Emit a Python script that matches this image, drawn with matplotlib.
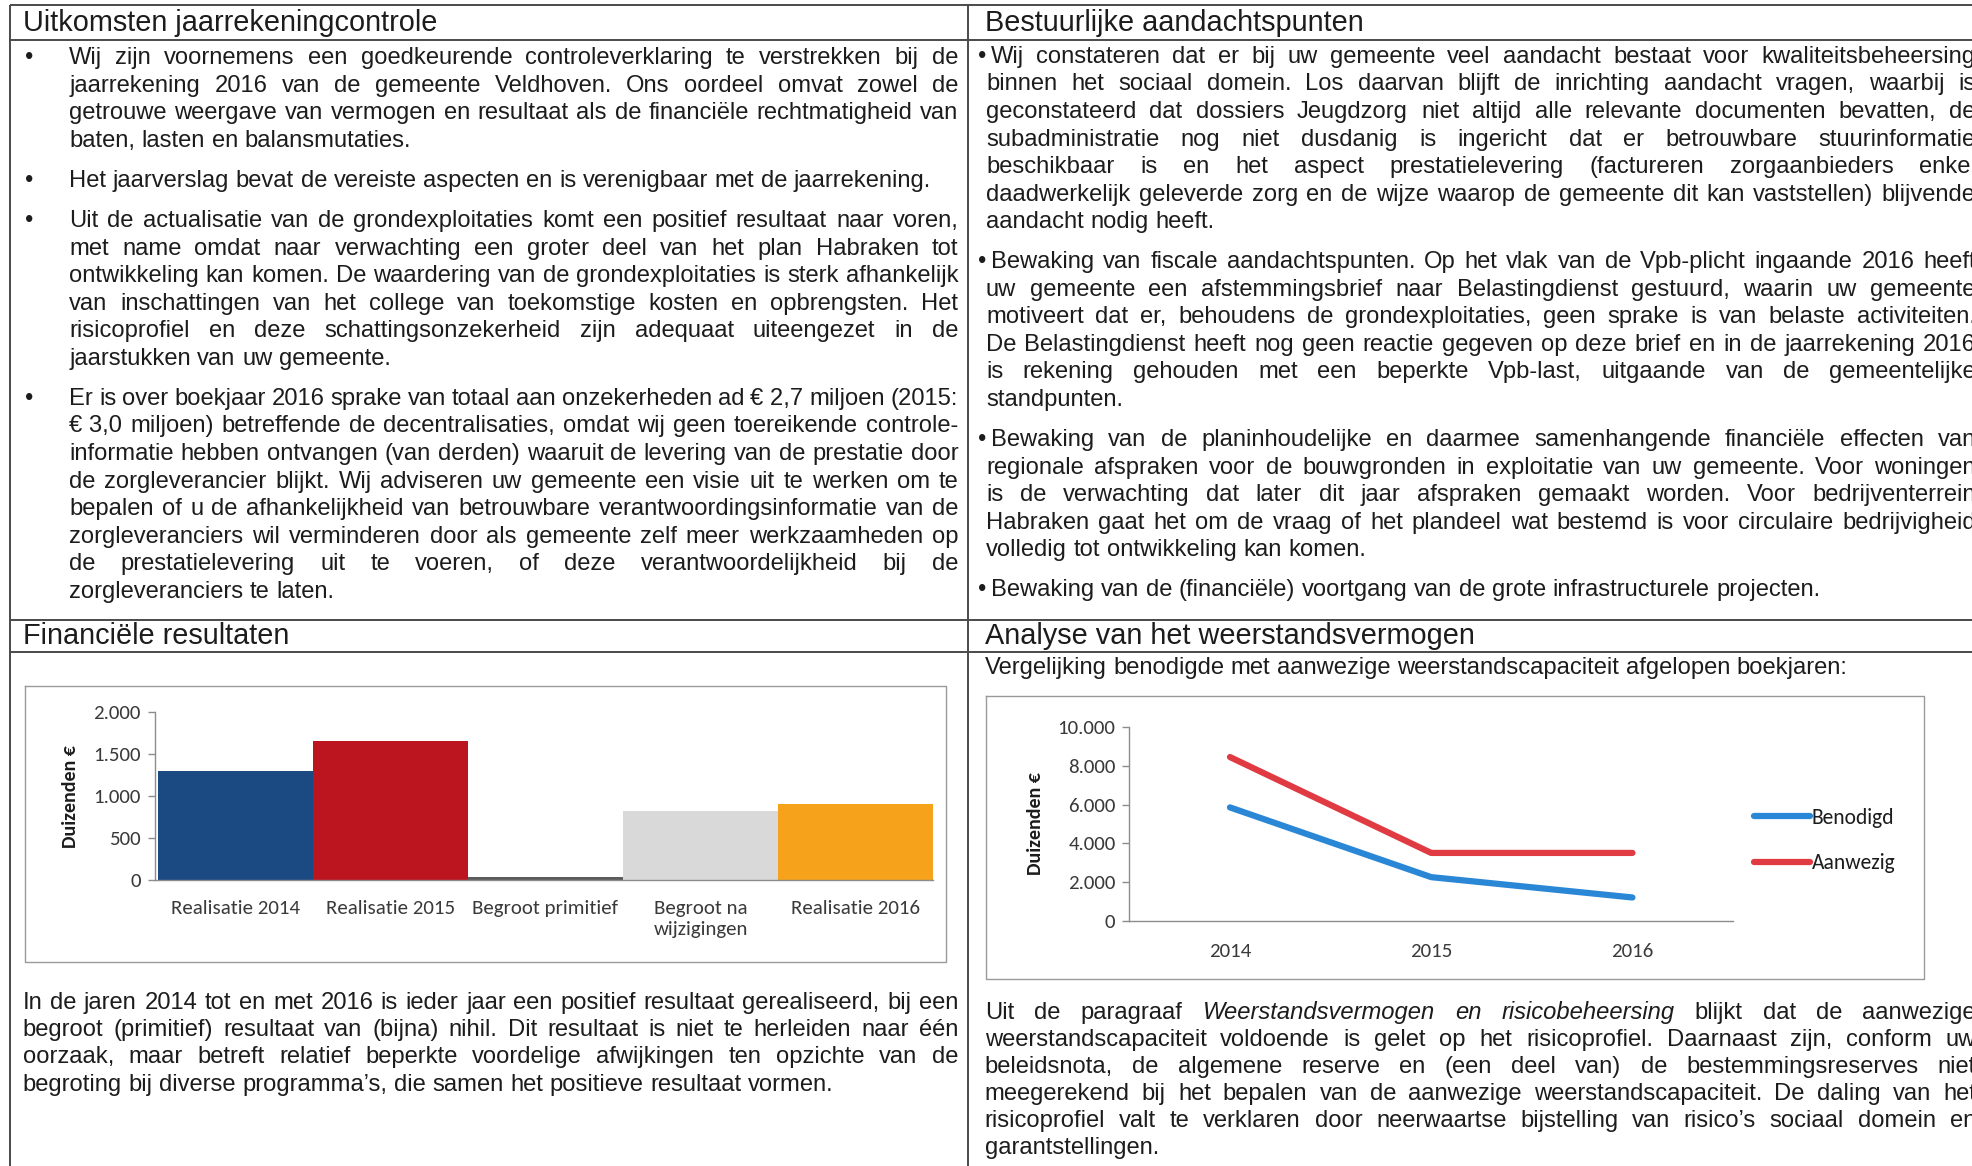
import matplotlib
matplotlib.use('Agg')
import matplotlib.pyplot as plt
from matplotlib.ticker import FuncFormatter
from matplotlib import font_manager

# page is laid out in the units of the reference as seen at 1568x927
W, H = 1568, 927

# ---- chart data ----
bar_labels = ['Realisatie 2014', 'Realisatie 2015', 'Begroot primitief',
              'Begroot na\nwijzigingen', 'Realisatie 2016']
bar_values = [1300, 1650, 40, 830, 905]
bar_colors = ['#1b4a82', '#bd1520', '#5c5c5c', '#d9d9da', '#f7a21b']

years = ['2014', '2015', '2016']
benodigd = [5850, 2250, 1200]
aanwezig = [8450, 3500, 3500]

# ---- texts ----
head_left = 'Uitkomsten jaarrekeningcontrole'
head_right = 'Bestuurlijke aandachtspunten'
head_fin = 'Financiële resultaten'
head_weer = 'Analyse van het weerstandsvermogen'
intro_weer = 'Vergelijking benodigde met aanwezige weerstandscapaciteit afgelopen boekjaren:'

left_items = [
    ['Wij zijn voornemens een goedkeurende controleverklaring te verstrekken bij de',
     'jaarrekening 2016 van de gemeente Veldhoven. Ons oordeel omvat zowel de',
     'getrouwe weergave van vermogen en resultaat als de financiële rechtmatigheid van',
     'baten, lasten en balansmutaties.'],
    ['Het jaarverslag bevat de vereiste aspecten en is verenigbaar met de jaarrekening.'],
    ['Uit de actualisatie van de grondexploitaties komt een positief resultaat naar voren,',
     'met name omdat naar verwachting een groter deel van het plan Habraken tot',
     'ontwikkeling kan komen. De waardering van de grondexploitaties is sterk afhankelijk',
     'van inschattingen van het college van toekomstige kosten en opbrengsten. Het',
     'risicoprofiel en deze schattingsonzekerheid zijn adequaat uiteengezet in de',
     'jaarstukken van uw gemeente.'],
    ['Er is over boekjaar 2016 sprake van totaal aan onzekerheden ad €\u00a02,7 miljoen (2015:',
     '€\u00a03,0 miljoen) betreffende de decentralisaties, omdat wij geen toereikende controle-',
     'informatie hebben ontvangen (van derden) waaruit de levering van de prestatie door',
     'de zorgleverancier blijkt. Wij adviseren uw gemeente een visie uit te werken om te',
     'bepalen of u de afhankelijkheid van betrouwbare verantwoordingsinformatie van de',
     'zorgleveranciers wil verminderen door als gemeente zelf meer werkzaamheden op',
     'de prestatielevering uit te voeren, of deze verantwoordelijkheid bij de',
     'zorgleveranciers te laten.'],
]

right_items = [
    ['Wij constateren dat er bij uw gemeente veel aandacht bestaat voor kwaliteitsbeheersing',
     'binnen het sociaal domein. Los daarvan blijft de inrichting aandacht vragen, waarbij is',
     'geconstateerd dat dossiers Jeugdzorg niet altijd alle relevante documenten bevatten, de',
     'subadministratie nog niet dusdanig is ingericht dat er betrouwbare stuurinformatie',
     'beschikbaar is en het aspect prestatielevering (factureren zorgaanbieders enkel',
     'daadwerkelijk geleverde zorg en de wijze waarop de gemeente dit kan vaststellen) blijvende',
     'aandacht nodig heeft.'],
    ['Bewaking van fiscale aandachtspunten. Op het vlak van de Vpb-plicht ingaande 2016 heeft',
     'uw gemeente een afstemmingsbrief naar Belastingdienst gestuurd, waarin uw gemeente',
     'motiveert dat er, behoudens de grondexploitaties, geen sprake is van belaste activiteiten.',
     'De Belastingdienst heeft nog geen reactie gegeven op deze brief en in de jaarrekening 2016',
     'is rekening gehouden met een beperkte Vpb-last, uitgaande van de gemeentelijke',
     'standpunten.'],
    ['Bewaking van de planinhoudelijke en daarmee samenhangende financiële effecten van',
     'regionale afspraken voor de bouwgronden in exploitatie van uw gemeente. Voor woningen',
     'is de verwachting dat later dit jaar afspraken gemaakt worden. Voor bedrijventerrein',
     'Habraken gaat het om de vraag of het plandeel wat bestemd is voor circulaire bedrijvigheid',
     'volledig tot ontwikkeling kan komen.'],
    ['Bewaking van de (financiële) voortgang van de grote infrastructurele projecten.'],
]

fin_text = [
    'In de jaren 2014 tot en met 2016 is ieder jaar een positief resultaat gerealiseerd, bij een',
    'begroot (primitief) resultaat van (bijna) nihil. Dit resultaat is niet te herleiden naar één',
    'oorzaak, maar betreft relatief beperkte voordelige afwijkingen ten opzichte van de',
    'begroting bij diverse programma’s, die samen het positieve resultaat vormen.',
]

# words starting with * are set in italics
weer_text = [
    'Uit de paragraaf *Weerstandsvermogen *en *risicobeheersing blijkt dat de aanwezige',
    'weerstandscapaciteit voldoende is gelet op het risicoprofiel. Daarnaast zijn, conform uw',
    'beleidsnota, de algemene reserve en (een deel van) de bestemmingsreserves niet',
    'meegerekend bij het bepalen van de aanwezige weerstandscapaciteit. De daling van het',
    'risicoprofiel valt te verklaren door neerwaartse bijstelling van risico’s sociaal domein en',
    'garantstellingen.',
]

# ---- fonts ----
names = {f.name for f in font_manager.fontManager.ttflist}
body_font = 'Liberation Sans Narrow' if 'Liberation Sans Narrow' in names else 'Liberation Sans'
chart_font = 'Carlito' if 'Carlito' in names else 'Lato'
ink = '#1c1c1c'

fig = plt.figure(figsize=(19.72, 11.66), dpi=100)
page = fig.add_axes([0, 0, 1, 1])
page.set_xlim(0, W)
page.set_ylim(H, 0)
page.axis('off')
renderer = fig.canvas.get_renderer()
unit = W / 1972.0


def width_of(s, size, style='normal'):
    t = page.text(0, 0, s, fontsize=size, family=body_font, style=style)
    w = t.get_window_extent(renderer).width * unit
    t.remove()
    return w


def fit_size(s, target):
    return 10 * target / width_of(s, 10)


body = fit_size('Het jaarverslag bevat de vereiste aspecten en is verenigbaar met de jaarrekening.', 690)
head = fit_size(head_left, 332)
space = width_of('x x', body) - width_of('xx', body)


def put_line(x0, x1, y, s, size, justify=True):
    words = s.split(' ')
    styles = ['italic' if w.startswith('*') else 'normal' for w in words]
    words = [w.lstrip('*') for w in words]
    ws = [width_of(w, size, st) for w, st in zip(words, styles)]
    gap = space
    if justify and len(words) > 1:
        gap = max((x1 - x0 - sum(ws)) / (len(words) - 1), space * 0.5)
    x = x0
    for w, st, wd in zip(words, styles, ws):
        page.text(x, y + 5, w, fontsize=size, family=body_font, style=st,
                  color=ink, va='baseline', ha='left')
        x += wd + gap


def paragraph(lines, x0, x1, y0, step, x_first=None):
    for i, s in enumerate(lines):
        last = i == len(lines) - 1
        xs = x_first if (i == 0 and x_first is not None) else x0
        put_line(xs, x1, y0 + i * step, s, body, justify=not last)


step = 21.9
# left column bullets
y = 46
for item in left_items:
    page.text(20, y + 5, '•', fontsize=body, family=body_font, color=ink, va='baseline')
    paragraph(item, 55, 762, y, step)
    y += len(item) * step + 10

# right column bullets
y = 45
for item in right_items:
    page.text(778, y + 5, '•', fontsize=body, family=body_font, color=ink, va='baseline')
    paragraph(item, 784, 1571, y, step, x_first=788)
    y += len(item) * step + 10

# headers
for x, yy, s in [(18, 18, head_left), (783, 18, head_right),
                 (18, 505, head_fin), (783, 505, head_weer)]:
    page.text(x, yy + 7, s, fontsize=head, family=body_font, color=ink, va='baseline')

put_line(783, 1475, 531, intro_weer, body, justify=False)
paragraph(fin_text, 18, 762, 797, 21.7)
paragraph(weer_text, 783, 1571, 805, 21.5)

# table rules
rule = dict(color='#4a4a4a', lw=1.4, solid_capstyle='butt')
for yy in [4, 32, 493, 518]:
    page.plot([8, W], [yy, yy], **rule)
for xx in [8, 770]:
    page.plot([xx, xx], [4, H], **rule)

# chart frames
frame = dict(color='#9a9a9a', lw=1.0)
for x0, y0, x1, y1 in [(20, 545, 752, 765), (784, 553, 1530, 778)]:
    page.plot([x0, x1, x1, x0, x0], [y0, y0, y1, y1, y0], **frame)

dutch = FuncFormatter(lambda v, p: f'{int(v):,}'.replace(',', '.'))
spine_col = '#8c8c8c'
tick_fs = 15


def style_axes(ax):
    for side in ['top', 'right']:
        ax.spines[side].set_visible(False)
    for side in ['left', 'bottom']:
        ax.spines[side].set_color(spine_col)
        ax.spines[side].set_linewidth(1.0)
    ax.yaxis.set_major_formatter(dutch)
    ax.tick_params(axis='y', colors=spine_col, length=5, width=1.0, pad=5,
                   labelcolor='#3a3a3a', labelsize=tick_fs)
    ax.tick_params(axis='x', length=0, labelcolor='#3a3a3a', labelsize=tick_fs)
    for lab in ax.get_xticklabels() + ax.get_yticklabels():
        lab.set_family(chart_font)
    ax.set_facecolor('none')


# ---- bar chart: financiële resultaten ----
axb = fig.add_axes([123 / W, 1 - 700 / H, (742 - 123) / W, (700 - 566) / H])
axb.bar(range(len(bar_values)), bar_values, width=1.0, color=bar_colors)
axb.set_xlim(-0.52, len(bar_values) - 0.5)
axb.set_ylim(0, 2000)
axb.set_yticks([0, 500, 1000, 1500, 2000])
axb.set_xticks(range(len(bar_labels)))
axb.set_xticklabels(bar_labels, linespacing=1.3)
style_axes(axb)
axb.tick_params(axis='x', pad=14)
axb.set_ylabel('Duizenden €', fontsize=14.3, fontweight='bold', family=chart_font,
               color='#1c1c1c', labelpad=10)

# ---- line chart: weerstandsvermogen ----
axl = fig.add_axes([898 / W, 1 - 732 / H, (1378 - 898) / W, (732 - 578) / H])
axl.plot(years, benodigd, color='#2a87d6', lw=4.5, solid_capstyle='round',
         solid_joinstyle='round', label='Benodigd')
axl.plot(years, aanwezig, color='#e03b43', lw=4.5, solid_capstyle='round',
         solid_joinstyle='round', label='Aanwezig')
axl.set_xlim(-0.5, 2.5)
axl.set_ylim(0, 10000)
axl.set_yticks([0, 2000, 4000, 6000, 8000, 10000])
style_axes(axl)
axl.tick_params(axis='x', pad=16)
axl.set_ylabel('Duizenden €', fontsize=14.3, fontweight='bold', family=chart_font,
               color='#1c1c1c', labelpad=10)
leg = axl.legend(loc='upper left', bbox_to_anchor=(1395 / W, 1 - 642 / H),
                 bbox_transform=fig.transFigure, frameon=False, fontsize=15.5,
                 handlelength=2.6, handletextpad=0.05, labelspacing=1.2,
                 borderpad=0, borderaxespad=0)
for t in leg.get_texts():
    t.set_family(chart_font)
    t.set_color('#1c1c1c')

fig.savefig('out.png', dpi=100, facecolor='white')
